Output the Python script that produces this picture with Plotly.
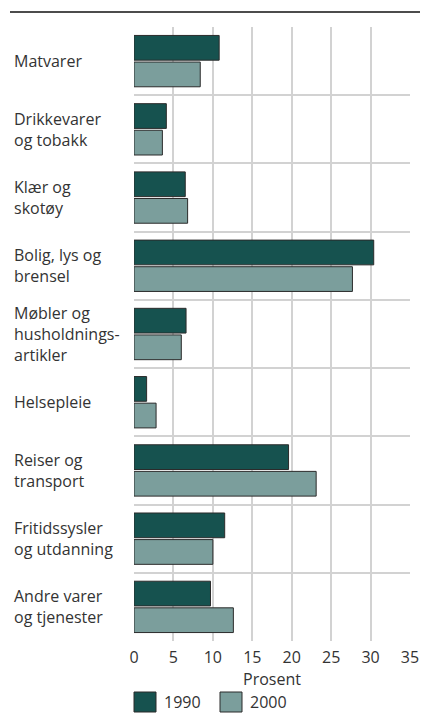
import plotly.graph_objects as go

categories = [
    "Matvarer",
    "Drikkevarer<br>og tobakk",
    "Klær og<br>skotøy",
    "Bolig, lys og<br>brensel",
    "Møbler og<br>husholdnings-<br>artikler",
    "Helsepleie",
    "Reiser og<br>transport",
    "Fritidssysler<br>og utdanning",
    "Andre varer<br>og tjenester",
]
series_names = ["1990", "2000"]
values_1990 = [10.8, 4.1, 6.5, 30.4, 6.6, 1.6, 19.6, 11.5, 9.7]
values_2000 = [8.4, 3.6, 6.8, 27.7, 6.0, 2.8, 23.1, 10.0, 12.6]
x_ticks = [0, 5, 10, 15, 20, 25, 30, 35]
x_title = "Prosent"

colors = ["#16524f", "#7b9e9c"]
FONT = "Open Sans"
TXT = "#333333"
GRID = "#d2d2d2"

# page has an 8px body margin; work in page pixels and convert
OFF = 8
W, H = 428 - 2 * OFF, 722 - 2 * OFF
PL, PR, PT, PB = 134, 410, 27, 641  # plot area in page pixels
L, T = PL - OFF, PT - OFF
R, B = W - (PR - OFF), H - (PB - OFF)
PW, PH = PR - PL, PB - PT


def px_x(x):
    return (x - PL) / PW


def px_y(y):
    return (PB - y) / PH


fig = go.Figure()
for name, vals, col in zip(series_names, [values_1990, values_2000], colors):
    fig.add_trace(go.Bar(
        y=categories, x=vals, name=name, orientation="h",
        marker=dict(color=col, line=dict(color="#2b2b2b", width=1)),
        showlegend=False,
    ))

# left-aligned category labels
for c in categories:
    fig.add_annotation(
        x=px_x(12), xref="paper", y=c, yref="y",
        text=c, showarrow=False, xanchor="left", yanchor="middle", align="left",
        font=dict(family=FONT, size=16, color=TXT),
    )

# manual legend
leg_x = [134, 220]
for name, col, lx in zip(series_names, colors, leg_x):
    fig.add_shape(type="rect", xref="paper", yref="paper",
                  x0=px_x(lx), x1=px_x(lx + 22), y0=px_y(692), y1=px_y(712),
                  fillcolor=col, line=dict(color="#2b2b2b", width=1))
    fig.add_annotation(x=px_x(lx + 28), xref="paper", y=px_y(702), yref="paper",
                       text=name, showarrow=False, xanchor="left", yanchor="middle",
                       font=dict(family=FONT, size=16, color=TXT))

# top rule
fig.add_shape(type="line", xref="paper", yref="paper",
              x0=px_x(10), x1=px_x(428), y0=px_y(12), y1=px_y(12),
              line=dict(color="#111111", width=1.5))

fig.update_layout(
    width=W, height=H,
    margin=dict(l=L, r=R, t=T, b=B, autoexpand=False),
    paper_bgcolor="white", plot_bgcolor="white",
    barmode="group", bargap=0.22, bargroupgap=0.07,
    font=dict(family=FONT, size=16, color=TXT),
    xaxis=dict(
        range=[0, 35], tickvals=x_ticks, ticktext=[str(t) for t in x_ticks],
        showgrid=True, gridcolor=GRID, gridwidth=2, zeroline=False,
        showline=False, ticks="outside", ticklen=2, tickcolor="rgba(0,0,0,0)",
        ticklabeloverflow="allow", automargin=False,
        tickfont=dict(family=FONT, size=16, color=TXT),
        title=dict(text=x_title, font=dict(family=FONT, size=16, color=TXT), standoff=4),
        fixedrange=True,
    ),
    yaxis=dict(
        categoryorder="array", categoryarray=categories, autorange="reversed",
        tickson="boundaries", showgrid=True, gridcolor=GRID, gridwidth=2,
        showticklabels=False, ticks="", zeroline=False, showline=False,
        automargin=False, fixedrange=True,
    ),
    showlegend=False,
)

fig.write_html("out.html")
